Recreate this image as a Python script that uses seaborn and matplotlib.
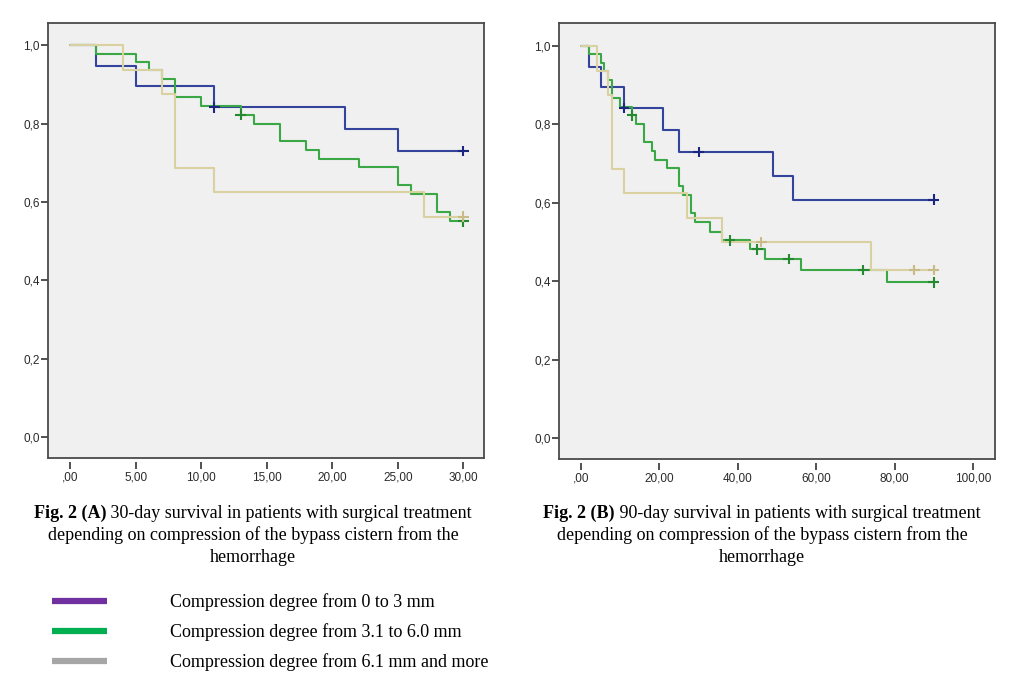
import numpy as np
import pandas as pd
import seaborn as sns
import matplotlib.pyplot as plt
from matplotlib.ticker import FuncFormatter

# Kaplan-Meier step values
groups = ['0-3', '3.1-6.0', '6.1+']

# panel A, 30 days
a_blue_t = [0, 2, 5, 11, 21, 25, 30]
a_blue_s = [1.0, 0.947, 0.895, 0.842, 0.786, 0.730, 0.730]
a_green_t = [0, 2, 5, 6, 7, 8, 10, 13, 14, 16, 18, 19, 22, 25, 26, 28, 29, 30]
a_green_s = [1.0, 0.979, 0.957, 0.936, 0.913, 0.868, 0.845, 0.823, 0.800, 0.756,
             0.733, 0.710, 0.688, 0.644, 0.620, 0.573, 0.550, 0.550]
a_tan_t = [0, 4, 7, 8, 11, 27, 30]
a_tan_s = [1.0, 0.9375, 0.875, 0.6875, 0.625, 0.5625, 0.5625]
a_cens_t = [[11, 30], [13, 30], [30]]
a_cens_s = [[0.842, 0.730], [0.823, 0.550], [0.5625]]

# panel B, 90 days
b_blue_t = [0, 2, 5, 11, 21, 25, 49, 54, 90]
b_blue_s = [1.0, 0.947, 0.895, 0.842, 0.786, 0.730, 0.669, 0.608, 0.608]
b_green_t = [0, 2, 5, 6, 7, 8, 10, 13, 14, 16, 18, 19, 22, 25, 26, 28, 29,
             33, 36, 43, 47, 56, 78, 90]
b_green_s = [1.0, 0.979, 0.957, 0.936, 0.913, 0.868, 0.845, 0.823, 0.800, 0.756,
             0.733, 0.710, 0.688, 0.644, 0.620, 0.573, 0.550,
             0.527, 0.505, 0.482, 0.457, 0.429, 0.397, 0.397]
b_tan_t = [0, 4, 7, 8, 11, 27, 36, 74, 90]
b_tan_s = [1.0, 0.9375, 0.875, 0.6875, 0.625, 0.5625, 0.5, 0.4286, 0.4286]
b_cens_t = [[11, 30, 90], [13, 38, 45, 53, 72, 90], [46, 85, 90]]
b_cens_s = [[0.842, 0.730, 0.608], [0.823, 0.505, 0.482, 0.457, 0.429, 0.397],
            [0.5, 0.4286, 0.4286]]

caption_a = ['30-day survival in patients with surgical treatment',
             'depending on compression of the bypass cistern from the',
             'hemorrhage']
caption_b = ['90-day survival in patients with surgical treatment',
             'depending on compression of the bypass cistern from the',
             'hemorrhage']
legend_labels = ['Compression degree from 0 to 3 mm',
                 'Compression degree from 3.1 to 6.0 mm',
                 'Compression degree from 6.1 mm and more']

line_pal = {'0-3': '#34439c', '3.1-6.0': '#3aa945', '6.1+': '#dad1a1'}
mark_pal = {'0-3': '#1c2680', '3.1-6.0': '#25892f', '6.1+': '#c9bb86'}
legend_cols = ['#7030a0', '#00b050', '#a6a6a6']

sns.set_theme(style='white')
plt.rcParams['font.family'] = ['Liberation Sans', 'DejaVu Sans']


def make_df(ts, ss):
    rows = []
    for g, t, s in zip(groups, ts, ss):
        for ti, si in zip(t, s):
            rows.append((g, ti, si))
    return pd.DataFrame(rows, columns=['group', 't', 'S'])


def fmt_x(v, pos):
    s = '{:.2f}'.format(v).replace('.', ',')
    if s.startswith('0,'):
        s = s[1:]
    return s


def draw_panel(ax, ts, ss, cts, css, xticks, xlim):
    curves = make_df(ts, ss)
    cens = make_df(cts, css)
    ax.set_facecolor('#f0f0f0')
    sns.lineplot(data=curves, x='t', y='S', hue='group', hue_order=groups,
                 palette=line_pal, estimator=None, drawstyle='steps-post',
                 linewidth=1.5, legend=False, ax=ax)
    sns.scatterplot(data=cens, x='t', y='S', hue='group', hue_order=groups,
                    palette=mark_pal, marker='+', s=60, linewidth=1.5,
                    legend=False, ax=ax, zorder=5)
    ax.set_xlim(xlim)
    ax.set_ylim(-0.053, 1.058)
    ax.set_xticks(xticks)
    ax.set_yticks([0, 0.2, 0.4, 0.6, 0.8, 1.0])
    ax.xaxis.set_major_formatter(FuncFormatter(fmt_x))
    ax.yaxis.set_major_formatter(FuncFormatter(lambda v, p: '{:.1f}'.format(v).replace('.', ',')))
    ax.set_xlabel('')
    ax.set_ylabel('')
    for sp in ax.spines.values():
        sp.set_color('#4a4a4a')
        sp.set_linewidth(1.3)
    # SPSS style: x ticks sit a little below the frame
    ax.spines['bottom'].set_position(('outward', 3))
    ax.spines['bottom'].set_visible(False)
    ax.plot([0, 1], [0, 0], transform=ax.transAxes, color='#4a4a4a',
            linewidth=1.3, clip_on=False)
    ax.tick_params(axis='both', direction='out', length=5, width=1.2,
                   color='#333333', labelsize=8.5, labelcolor='#2a2a2a', pad=1)
    ax.tick_params(axis='x', bottom=True, pad=2)
    ax.tick_params(axis='y', left=True)


fig = plt.figure(figsize=(10.31, 6.85), dpi=100)
ax1 = fig.add_axes([0.0466, 0.332, 0.4232, 0.635])
ax2 = fig.add_axes([0.5422, 0.330, 0.4229, 0.636])

draw_panel(ax1, [a_blue_t, a_green_t, a_tan_t], [a_blue_s, a_green_s, a_tan_s],
           a_cens_t, a_cens_s, [0, 5, 10, 15, 20, 25, 30], (-1.68, 31.6))
draw_panel(ax2, [b_blue_t, b_green_t, b_tan_t], [b_blue_s, b_green_s, b_tan_s],
           b_cens_t, b_cens_s, [0, 20, 40, 60, 80, 100], (-5.6, 105.6))

# captions (bold "Fig. 2 (X)" followed by regular text)
serif = ['Liberation Serif', 'DejaVu Serif']
cap_size = 13
W, H = 1031, 685
renderer = fig.canvas.get_renderer()


def caption(cx, tag, lines):
    y0 = 513
    b = fig.text(0, 1 - y0 / H, tag, family=serif, weight='bold', size=cap_size,
                 va='center', ha='left', color='black')
    r = fig.text(0, 1 - y0 / H, ' ' + lines[0], family=serif, size=cap_size,
                 va='center', ha='left', color='black')
    wb = b.get_window_extent(renderer).width
    wr = r.get_window_extent(renderer).width
    left = cx - (wb + wr) / 2
    b.set_x(left / W)
    r.set_x((left + wb) / W)
    for i, ln in enumerate(lines[1:]):
        fig.text(cx / W, 1 - (y0 + 22 * (i + 1)) / H, ln, family=serif,
                 size=cap_size, va='center', ha='center', color='black')


caption(253, 'Fig. 2 (A)', caption_a)
caption(762, 'Fig. 2 (B)', caption_b)

# legend below the panels
for i, (lab, col) in enumerate(zip(legend_labels, legend_cols)):
    y = 601 + 30 * i
    fig.add_artist(plt.Line2D([52 / W, 107 / W], [1 - y / H, 1 - y / H],
                              color=col, linewidth=4.5, solid_capstyle='butt'))
    fig.text(170 / W, 1 - (y + 1) / H, lab, family=serif, size=cap_size,
             va='center', ha='left', color='black')

fig.savefig('out.png', dpi=100)
